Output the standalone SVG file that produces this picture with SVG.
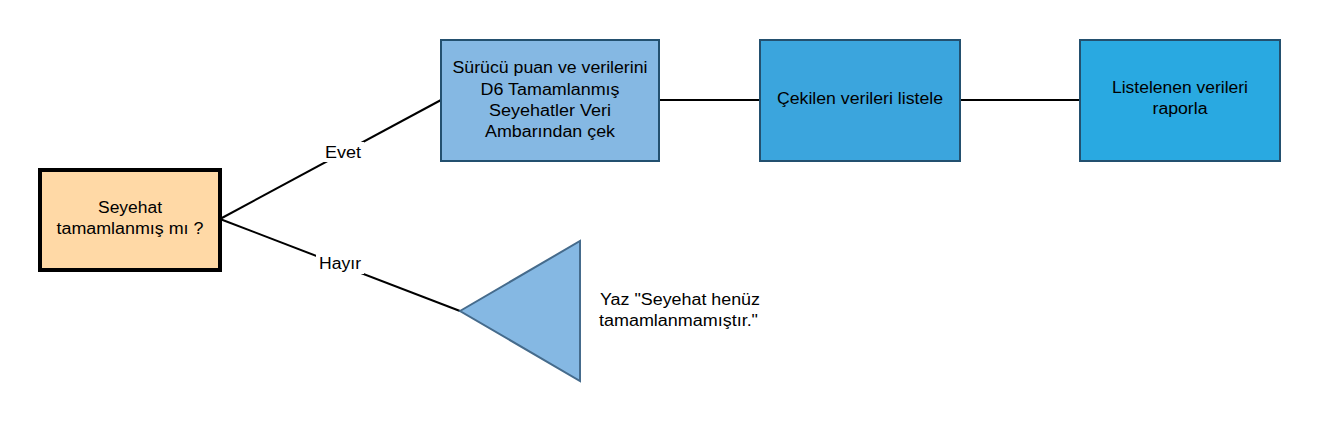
<svg xmlns="http://www.w3.org/2000/svg" width="1320" height="422" viewBox="0 0 1320 422">
<style>
text{font-family:"Liberation Sans",Arial,sans-serif;font-size:16px;fill:#000}
.c{text-anchor:middle}
.ln{stroke:#000;stroke-width:2;fill:none}
.proc{stroke:#23506f;stroke-width:2}
.lbg{fill:#fff}
</style>
<rect width="1320" height="422" fill="#fff"/>
<g id="connectors">
<line class="ln" x1="220" y1="219" x2="441" y2="100"/>
<line class="ln" x1="220" y1="219" x2="460" y2="311"/>
<line class="ln" x1="659" y1="100" x2="760" y2="100"/>
<line class="ln" x1="960" y1="100" x2="1080" y2="100"/>
<rect class="lbg" x="322" y="142" width="42" height="20"/>
<text class="c" x="343" y="157.5" textLength="36" lengthAdjust="spacingAndGlyphs">Evet</text>
<rect class="lbg" x="316" y="254" width="48" height="20"/>
<text class="c" x="340" y="269" textLength="42" lengthAdjust="spacingAndGlyphs">Hayır</text>
</g>
<g id="decision">
<rect x="40" y="170" width="180" height="100" fill="#ffd9a6" stroke="#000" stroke-width="4"/>
<text class="c" x="130" y="212.5" textLength="64" lengthAdjust="spacingAndGlyphs">Seyehat</text>
<text class="c" x="130" y="233.5" textLength="147" lengthAdjust="spacingAndGlyphs">tamamlanmış mı ?</text>
</g>
<g id="fetch">
<rect class="proc" x="441" y="40" width="218" height="121" fill="#85b8e3"/>
<text class="c" x="550" y="72.5" textLength="195" lengthAdjust="spacingAndGlyphs">Sürücü puan ve verilerini</text>
<text class="c" x="550" y="94.5" textLength="139" lengthAdjust="spacingAndGlyphs">D6 Tamamlanmış</text>
<text class="c" x="550" y="116" textLength="122" lengthAdjust="spacingAndGlyphs">Seyehatler Veri</text>
<text class="c" x="550" y="137" textLength="130" lengthAdjust="spacingAndGlyphs">Ambarından çek</text>
</g>
<g id="list">
<rect class="proc" x="760" y="40" width="200" height="121" fill="#3ba5dd"/>
<text class="c" x="860" y="103.5" textLength="166" lengthAdjust="spacingAndGlyphs">Çekilen verileri listele</text>
</g>
<g id="report">
<rect class="proc" x="1080" y="40" width="200" height="121" fill="#29a9e1"/>
<text class="c" x="1180" y="92.5" textLength="136" lengthAdjust="spacingAndGlyphs">Listelenen verileri</text>
<text class="c" x="1180" y="113.5" textLength="55" lengthAdjust="spacingAndGlyphs">raporla</text>
</g>
<g id="output">
<polygon points="460,311 580,241 580,381" fill="#85b8e3" stroke="#456b8c" stroke-width="2"/>
<text x="600" y="305" textLength="160" lengthAdjust="spacingAndGlyphs">Yaz "Seyehat henüz</text>
<text x="599" y="326" textLength="159" lengthAdjust="spacingAndGlyphs">tamamlanmamıştır."</text>
</g>
</svg>
